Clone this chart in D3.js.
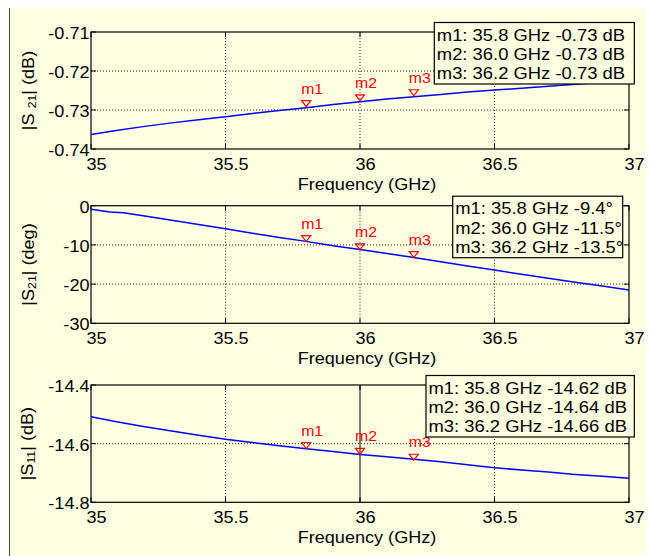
<!DOCTYPE html>
<html><head><meta charset="utf-8">
<script src="https://cdn.jsdelivr.net/npm/d3@7"></script>
<style>body{margin:0;background:#fff}svg{display:block}</style>
</head><body>
<svg id="c" width="651" height="556"></svg>
<script>
// ---------- data ----------
const freqGHz = [35.0,35.1,35.2,35.3,35.4,35.5,35.6,35.7,35.8,35.9,36.0,36.1,36.2,36.3,36.4,36.5,36.6,36.7,36.8,36.9,37.0];
const s21MagDb = [-0.7363,-0.7352,-0.7342,-0.7333,-0.7325,-0.7317,-0.7309,-0.7301,-0.7294,-0.7286,-0.7279,-0.7272,-0.7266,-0.7260,-0.7254,-0.7249,-0.7244,-0.7239,-0.7234,-0.7229,-0.7225];
const s21PhaseFreq = [35.0,35.07,35.12,35.2,35.3,35.4,35.5,35.6,35.7,35.8,35.9,36.0,36.1,36.2,36.3,36.4,36.5,36.6,36.7,36.8,36.9,37.0];
const s21PhaseDeg = [-0.9,-1.6,-1.8,-2.6,-3.7,-4.8,-5.9,-7.0,-8.1,-9.1,-10.2,-11.2,-12.2,-13.2,-14.3,-15.4,-16.4,-17.5,-18.5,-19.5,-20.5,-21.5];
const s11MagDb = [-14.508,-14.526,-14.542,-14.557,-14.571,-14.585,-14.596,-14.607,-14.617,-14.627,-14.637,-14.645,-14.653,-14.662,-14.672,-14.682,-14.690,-14.697,-14.705,-14.711,-14.718];

const markerNames = ["m1","m2","m3"];
const markerFreqs = [35.8, 36.0, 36.2];
const s21MagMarkers = [-0.7294, -0.7279, -0.7266];
const s21PhaseMarkers = [-9.4, -11.5, -13.5];
const s11MagMarkers = [-14.62, -14.64, -14.66];

const xTicks = [35, 35.5, 36, 36.5, 37];
const s21MagTicks = [-0.74, -0.73, -0.72, -0.71];
const s21PhaseTicks = [-30, -20, -10, 0];
const s11MagTicks = [-14.8, -14.6, -14.4];

// ---------- layout ----------
const loc = d3.formatLocale({decimal: ".", thousands: ",", grouping: [3], currency: ["", ""], minus: "-"});
const fmt = s => loc.format(s);
const FONT = "'Liberation Sans', Arial, Helvetica, sans-serif";
const SX = 1.13;           // horizontal stretch of rendered text
const BG = "#ffffe1";
const L = 91, R = 629;

const panels = [
  {x: freqGHz, y: s21MagDb, ticks: s21MagTicks, dom: [-0.74, -0.71], fmtT: fmt(".2f"),
   top: 32, bot: 149, mk: s21MagMarkers, fmtM: v => fmt(".2f")(v) + " dB",
   lab: ["|S", " ", "21", "| (dB)"], labSize: 16, labX: 34,
   legX: 434.3, legW: 200, solidX: null},
  {x: s21PhaseFreq, y: s21PhaseDeg, ticks: s21PhaseTicks, dom: [-30, 0], fmtT: fmt("d"),
   top: 205.7, bot: 323.3, mk: s21PhaseMarkers, fmtM: v => fmt(".1f")(v) + "\u00B0",
   lab: ["|S", "", "21", "| (deg)"], labSize: 16, labX: 33.5,
   legX: 452.7, legW: 170, solidX: null},
  {x: freqGHz, y: s11MagDb, ticks: s11MagTicks, dom: [-14.8, -14.4], fmtT: fmt(".1f"),
   top: 385, bot: 502.3, mk: s11MagMarkers, fmtM: v => fmt(".2f")(v) + " dB",
   lab: ["|S", "", "11", "| (dB)"], labSize: 16, labX: 32.5,
   legX: 426, legW: 208.3, solidX: 36}
];

const svg = d3.select("#c");
svg.append("rect").attr("x", 9).attr("y", 8).attr("width", 637).attr("height", 548).attr("fill", BG);
svg.append("line").attr("x1", 9.5).attr("x2", 9.5).attr("y1", 8).attr("y2", 556).attr("stroke", "#444").attr("stroke-width", 1);

function txt(g, x, y, s, anchor, size, color) {
  return g.append("text")
    .attr("transform", `translate(${x},${y}) scale(${SX},1)`)
    .attr("text-anchor", anchor)
    .attr("font-family", FONT)
    .attr("font-size", size)
    .attr("fill", color || "#000")
    .text(s);
}

const x = d3.scaleLinear().domain([35, 37]).range([L, R]);

panels.forEach(p => {
  const g = svg.append("g");
  const y = d3.scaleLinear().domain(p.dom).range([p.bot, p.top]);

  // grid
  xTicks.slice(1, -1).forEach(t => {
    const solid = p.solidX === t;
    g.append("line").attr("x1", x(t)).attr("x2", x(t)).attr("y1", p.top).attr("y2", p.bot)
      .attr("stroke", solid ? "#000" : "#222").attr("stroke-width", 1)
      .attr("stroke-dasharray", solid ? null : "1,2");
  });
  p.ticks.slice(1, -1).forEach(t => {
    g.append("line").attr("x1", L).attr("x2", R).attr("y1", y(t)).attr("y2", y(t))
      .attr("stroke", "#222").attr("stroke-width", 1).attr("stroke-dasharray", "1,2");
  });

  // ticks (inward)
  xTicks.forEach(t => {
    g.append("line").attr("x1", x(t)).attr("x2", x(t)).attr("y1", p.bot).attr("y2", p.bot - 5).attr("stroke", "#000");
    g.append("line").attr("x1", x(t)).attr("x2", x(t)).attr("y1", p.top).attr("y2", p.top + 5).attr("stroke", "#000");
    txt(g, x(t) + 5.5, p.bot + 21, fmt("")(t), "middle", 16);
  });
  p.ticks.forEach(t => {
    g.append("line").attr("x1", L).attr("x2", L + 5).attr("y1", y(t)).attr("y2", y(t)).attr("stroke", "#000");
    g.append("line").attr("x1", R).attr("x2", R - 5).attr("y1", y(t)).attr("y2", y(t)).attr("stroke", "#000");
    txt(g, 89.5, y(t) + 7, p.fmtT(t), "end", 16);
  });

  // box
  g.append("rect").attr("x", L).attr("y", p.top).attr("width", R - L).attr("height", p.bot - p.top)
    .attr("fill", "none").attr("stroke", "#000").attr("stroke-width", 1.2);

  // curve
  g.append("path").datum(p.x.map((f, i) => [f, p.y[i]]))
    .attr("d", d3.line().x(d => x(d[0])).y(d => y(d[1])))
    .attr("fill", "none").attr("stroke", "#0000ff").attr("stroke-width", 1.5);

  // markers
  markerFreqs.forEach((f, i) => {
    const mx = x(f), my = y(p.mk[i]) - 1;
    g.append("path").attr("d", `M${mx - 4.5},${my - 6} L${mx + 4.5},${my - 6} L${mx},${my} Z`)
      .attr("fill", "none").attr("stroke", "#ff0000").attr("stroke-width", 1.2);
    txt(g, mx - 5, my - 13, markerNames[i], "start", 14, "#ff0000");
  });

  // legend
  const lt = p.top - 9.5, lh = 61.5;
  g.append("rect").attr("x", p.legX).attr("y", lt).attr("width", p.legW).attr("height", lh)
    .attr("fill", BG).attr("stroke", "#000").attr("stroke-width", 1.2);
  markerFreqs.forEach((f, i) => {
    txt(g, p.legX + 2.5, lt + 18 + i * 19.3,
      `${markerNames[i]}: ${fmt(".1f")(f)} GHz ${p.fmtM(p.mk[i])}`, "start", 16.3);
  });

  // axis labels
  txt(g, (L + R) / 2 + 7, p.bot + 41, "Frequency (GHz)", "middle", 16);
  const yl = g.append("text")
    .attr("transform", `translate(${p.labX},${(p.top + p.bot) / 2}) rotate(-90) scale(${SX},1)`)
    .attr("text-anchor", "middle").attr("font-family", FONT).attr("font-size", p.labSize);
  yl.append("tspan").text(p.lab[0]);
  if (p.lab[1]) yl.append("tspan").text(p.lab[1]);
  yl.append("tspan").attr("font-size", p.labSize * 0.68).attr("dy", 2).text(p.lab[2]);
  yl.append("tspan").attr("dy", -2).text(p.lab[3]);
});
</script>
</body></html>
